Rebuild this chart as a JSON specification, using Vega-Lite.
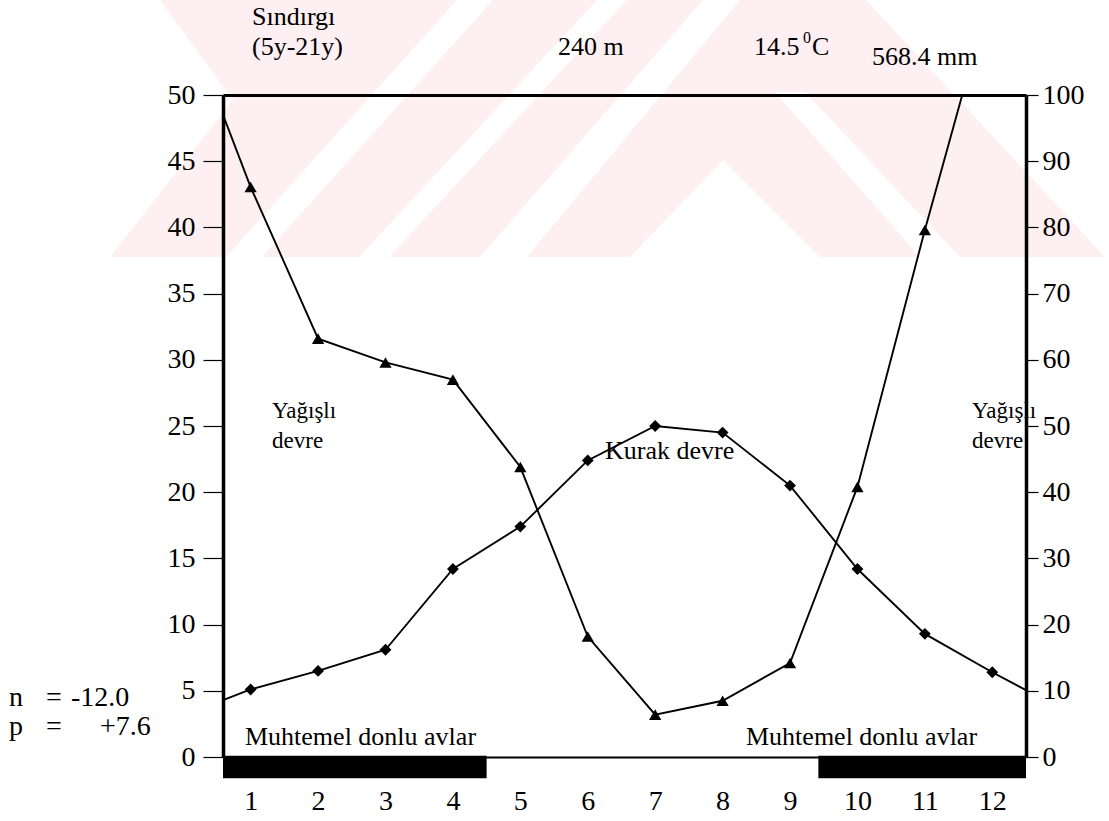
{
  "$schema": "https://vega.github.io/schema/vega-lite/v6.json",
  "width": 803,
  "height": 662,
  "autosize": {"type": "none"},
  "padding": {"left": 223, "top": 95, "right": 83, "bottom": 64},
  "background": "white",
  "config": {
    "view": {"stroke": null},
    "font": "Liberation Serif, Times New Roman, serif",
    "axis": {
      "labelFont": "Liberation Serif, Times New Roman, serif",
      "labelFontSize": 28,
      "labelColor": "black",
      "tickColor": "black",
      "grid": false,
      "title": null
    }
  },
  "datasets": {
    "temp": [
      {"month": 0.59, "temp": 4.3, "edge": true},
      {"month": 1, "temp": 5.1, "edge": false},
      {"month": 2, "temp": 6.5, "edge": false},
      {"month": 3, "temp": 8.1, "edge": false},
      {"month": 4, "temp": 14.2, "edge": false},
      {"month": 5, "temp": 17.4, "edge": false},
      {"month": 6, "temp": 22.4, "edge": false},
      {"month": 7, "temp": 25.0, "edge": false},
      {"month": 8, "temp": 24.5, "edge": false},
      {"month": 9, "temp": 20.5, "edge": false},
      {"month": 10, "temp": 14.2, "edge": false},
      {"month": 11, "temp": 9.3, "edge": false},
      {"month": 12, "temp": 6.4, "edge": false},
      {"month": 12.5, "temp": 5.05, "edge": true}
    ],
    "precip": [
      {"month": 0.59, "mm": 97, "edge": true},
      {"month": 1, "mm": 86.1, "edge": false},
      {"month": 2, "mm": 63.2, "edge": false},
      {"month": 3, "mm": 59.6, "edge": false},
      {"month": 4, "mm": 57.0, "edge": false},
      {"month": 5, "mm": 43.8, "edge": false},
      {"month": 6, "mm": 18.2, "edge": false},
      {"month": 7, "mm": 6.4, "edge": false},
      {"month": 8, "mm": 8.5, "edge": false},
      {"month": 9, "mm": 14.2, "edge": false},
      {"month": 10, "mm": 40.8, "edge": false},
      {"month": 11, "mm": 79.6, "edge": false},
      {"month": 12, "mm": 116.4, "edge": false}
    ],
    "frost": [
      {"from": 0.59, "to": 4.5, "top": 0.1, "bottom": -1.6},
      {"from": 9.42, "to": 12.5, "top": 0.1, "bottom": -1.6}
    ],
    "watermark": [
      {"piece": "L", "wy": 57.18, "wx": -0.344, "wx2": 4.061},
      {"piece": "L", "wy": 49.62, "wx": 0.738, "wx2": 2.727},
      {"piece": "L", "wy": 37.76, "wx": -1.086, "wx2": 0.634},
      {"piece": "AB", "wy": 57.18, "wx": 4.595, "wx2": 6.137},
      {"piece": "AB", "wy": 37.76, "wx": 1.168, "wx2": 2.607},
      {"piece": "BC", "wy": 57.18, "wx": 6.582, "wx2": 7.709},
      {"piece": "BC", "wy": 37.76, "wx": 3.052, "wx2": 4.402},
      {"piece": "R1", "wy": 57.18, "wx": 8.258, "wx2": 10.127},
      {"piece": "R1", "wy": 50.23, "wx": 7.128, "wx2": 11.397},
      {"piece": "R2", "wy": 50.23, "wx": 7.128, "wx2": 8.777},
      {"piece": "R2", "wy": 45.09, "wx": 6.292, "wx2": 9.664},
      {"piece": "R3", "wy": 50.23, "wx": 9.222, "wx2": 11.397},
      {"piece": "R3", "wy": 37.76, "wx": 11.521, "wx2": 13.672},
      {"piece": "R4", "wy": 45.09, "wx": 6.292, "wx2": 8.006},
      {"piece": "R4", "wy": 37.76, "wx": 5.099, "wx2": 6.626},
      {"piece": "R5", "wy": 45.09, "wx": 8.006, "wx2": 9.664},
      {"piece": "R5", "wy": 37.76, "wx": 9.445, "wx2": 10.928}
    ],
    "notes": [
      {"label": "Sındırgı", "tx": 1.02, "ty": 55.29, "kind": "text"},
      {"label": "(5y-21y)", "tx": 1.02, "ty": 53.02, "kind": "text"},
      {"label": "240 m", "tx": 5.559, "ty": 53.02, "kind": "text"},
      {"label": "14.5", "tx": 8.466, "ty": 53.02, "kind": "text"},
      {"label": "0", "tx": 9.193, "ty": 53.95, "kind": "sup"},
      {"label": "C", "tx": 9.326, "ty": 53.02, "kind": "text"},
      {"label": "568.4 mm", "tx": 10.215, "ty": 52.27, "kind": "text"},
      {"label": "Yağışlı", "tx": 1.317, "ty": 25.6, "kind": "small"},
      {"label": "devre", "tx": 1.317, "ty": 23.34, "kind": "small"},
      {"label": "Kurak devre", "tx": 6.256, "ty": 22.5, "kind": "text"},
      {"label": "Yağışlı", "tx": 11.7, "ty": 25.6, "kind": "small"},
      {"label": "devre", "tx": 11.7, "ty": 23.34, "kind": "small"},
      {"label": "Muhtemel donlu avlar", "tx": 0.916, "ty": 0.9, "kind": "text"},
      {"label": "Muhtemel donlu avlar", "tx": 8.347, "ty": 0.9, "kind": "text"},
      {"label": "n", "tx": -2.584, "ty": 3.85, "kind": "np"},
      {"label": "=", "tx": -2.035, "ty": 3.85, "kind": "np"},
      {"label": "-12.0", "tx": -1.665, "ty": 3.85, "kind": "np"},
      {"label": "p", "tx": -2.584, "ty": 1.66, "kind": "np"},
      {"label": "=", "tx": -2.035, "ty": 1.66, "kind": "np"},
      {"label": "+7.6", "tx": -1.234, "ty": 1.66, "kind": "np"}
    ]
  },
  "layer": [
    {
      "layer": [
        {
          "data": {"name": "watermark"},
          "mark": {"type": "area", "orient": "horizontal", "color": "#fdeff2", "clip": false},
          "encoding": {
            "y": {"field": "wy", "type": "quantitative", "scale": {"domain": [0, 50], "nice": false, "zero": false},
                  "axis": {"orient": "left", "values": [0,5,10,15,20,25,30,35,40,45,50], "tickSize": 20, "tickWidth": 1.2, "labelPadding": 8, "domain": true, "domainColor": "black", "domainWidth": 3.5, "zindex": 1}},
            "x": {"field": "wx", "type": "quantitative", "scale": {"domain": [0.59, 12.5], "nice": false, "zero": false},
                  "axis": {"orient": "bottom", "values": [1,2,3,4,5,6,7,8,9,10,11,12], "ticks": false, "labelPadding": 30, "domain": true, "domainColor": "black", "domainWidth": 2, "zindex": 1}},
            "x2": {"field": "wx2"},
            "detail": {"field": "piece", "type": "nominal"}
          }
        },
        {
          "data": {"name": "frost"},
          "mark": {"type": "rect", "color": "black", "clip": false},
          "encoding": {
            "x": {"field": "from", "type": "quantitative",
                  "axis": {"orient": "bottom", "values": [1,2,3,4,5,6,7,8,9,10,11,12], "ticks": false, "labelPadding": 30, "domain": true, "domainColor": "black", "domainWidth": 2, "zindex": 1}},
            "x2": {"field": "to"},
            "y": {"field": "top", "type": "quantitative",
                  "axis": {"orient": "left", "values": [0,5,10,15,20,25,30,35,40,45,50], "tickSize": 20, "tickWidth": 1.2, "labelPadding": 8, "domain": true, "domainColor": "black", "domainWidth": 3.5, "zindex": 1}},
            "y2": {"field": "bottom"}
          }
        },
        {
          "data": {"name": "temp"},
          "mark": {"type": "line", "color": "black", "strokeWidth": 1.9},
          "encoding": {
            "x": {"field": "month", "type": "quantitative",
                  "axis": {"orient": "bottom", "values": [1,2,3,4,5,6,7,8,9,10,11,12], "ticks": false, "labelPadding": 30, "domain": true, "domainColor": "black", "domainWidth": 2, "zindex": 1}},
            "y": {"field": "temp", "type": "quantitative",
                  "axis": {"orient": "left", "values": [0,5,10,15,20,25,30,35,40,45,50], "tickSize": 20, "tickWidth": 1.2, "labelPadding": 8, "domain": true, "domainColor": "black", "domainWidth": 3.5, "zindex": 1}}
          }
        },
        {
          "data": {"name": "temp"},
          "transform": [{"filter": "!datum.edge"}],
          "mark": {"type": "point", "shape": "diamond", "filled": true, "color": "black", "size": 140, "opacity": 1},
          "encoding": {
            "x": {"field": "month", "type": "quantitative",
                  "axis": {"orient": "bottom", "values": [1,2,3,4,5,6,7,8,9,10,11,12], "ticks": false, "labelPadding": 30, "domain": true, "domainColor": "black", "domainWidth": 2, "zindex": 1}},
            "y": {"field": "temp", "type": "quantitative",
                  "axis": {"orient": "left", "values": [0,5,10,15,20,25,30,35,40,45,50], "tickSize": 20, "tickWidth": 1.2, "labelPadding": 8, "domain": true, "domainColor": "black", "domainWidth": 3.5, "zindex": 1}}
          }
        },
        {
          "data": {"name": "notes"},
          "transform": [{"filter": "datum.kind === 'text'"}],
          "mark": {"type": "text", "align": "left", "baseline": "alphabetic", "fontSize": 26, "color": "black", "font": "Liberation Serif, Times New Roman, serif", "clip": false},
          "encoding": {
            "x": {"field": "tx", "type": "quantitative",
                  "axis": {"orient": "bottom", "values": [1,2,3,4,5,6,7,8,9,10,11,12], "ticks": false, "labelPadding": 30, "domain": true, "domainColor": "black", "domainWidth": 2, "zindex": 1}},
            "y": {"field": "ty", "type": "quantitative",
                  "axis": {"orient": "left", "values": [0,5,10,15,20,25,30,35,40,45,50], "tickSize": 20, "tickWidth": 1.2, "labelPadding": 8, "domain": true, "domainColor": "black", "domainWidth": 3.5, "zindex": 1}},
            "text": {"field": "label"}
          }
        },
        {
          "data": {"name": "notes"},
          "transform": [{"filter": "datum.kind === 'small'"}],
          "mark": {"type": "text", "align": "left", "baseline": "alphabetic", "fontSize": 23, "color": "black", "font": "Liberation Serif, Times New Roman, serif", "clip": false},
          "encoding": {
            "x": {"field": "tx", "type": "quantitative",
                  "axis": {"orient": "bottom", "values": [1,2,3,4,5,6,7,8,9,10,11,12], "ticks": false, "labelPadding": 30, "domain": true, "domainColor": "black", "domainWidth": 2, "zindex": 1}},
            "y": {"field": "ty", "type": "quantitative",
                  "axis": {"orient": "left", "values": [0,5,10,15,20,25,30,35,40,45,50], "tickSize": 20, "tickWidth": 1.2, "labelPadding": 8, "domain": true, "domainColor": "black", "domainWidth": 3.5, "zindex": 1}},
            "text": {"field": "label"}
          }
        },
        {
          "data": {"name": "notes"},
          "transform": [{"filter": "datum.kind === 'sup'"}],
          "mark": {"type": "text", "align": "left", "baseline": "alphabetic", "fontSize": 16, "color": "black", "font": "Liberation Serif, Times New Roman, serif", "clip": false},
          "encoding": {
            "x": {"field": "tx", "type": "quantitative",
                  "axis": {"orient": "bottom", "values": [1,2,3,4,5,6,7,8,9,10,11,12], "ticks": false, "labelPadding": 30, "domain": true, "domainColor": "black", "domainWidth": 2, "zindex": 1}},
            "y": {"field": "ty", "type": "quantitative",
                  "axis": {"orient": "left", "values": [0,5,10,15,20,25,30,35,40,45,50], "tickSize": 20, "tickWidth": 1.2, "labelPadding": 8, "domain": true, "domainColor": "black", "domainWidth": 3.5, "zindex": 1}},
            "text": {"field": "label"}
          }
        },
        {
          "data": {"name": "notes"},
          "transform": [{"filter": "datum.kind === 'np'"}],
          "mark": {"type": "text", "align": "left", "baseline": "alphabetic", "fontSize": 28, "color": "black", "font": "Liberation Serif, Times New Roman, serif", "clip": false},
          "encoding": {
            "x": {"field": "tx", "type": "quantitative",
                  "axis": {"orient": "bottom", "values": [1,2,3,4,5,6,7,8,9,10,11,12], "ticks": false, "labelPadding": 30, "domain": true, "domainColor": "black", "domainWidth": 2, "zindex": 1}},
            "y": {"field": "ty", "type": "quantitative",
                  "axis": {"orient": "left", "values": [0,5,10,15,20,25,30,35,40,45,50], "tickSize": 20, "tickWidth": 1.2, "labelPadding": 8, "domain": true, "domainColor": "black", "domainWidth": 3.5, "zindex": 1}},
            "text": {"field": "label"}
          }
        }
      ]
    },
    {
      "layer": [
        {
          "data": {"name": "precip"},
          "mark": {"type": "line", "color": "black", "strokeWidth": 1.9, "clip": true},
          "encoding": {
            "x": {"field": "month", "type": "quantitative",
                  "axis": {"orient": "top", "labels": false, "ticks": false, "domain": true, "domainColor": "black", "domainWidth": 3, "zindex": 1}},
            "y": {"field": "mm", "type": "quantitative", "scale": {"domain": [0, 100], "nice": false, "zero": false},
                  "axis": {"orient": "right", "values": [0,10,20,30,40,50,60,70,80,90,100], "tickSize": 12, "tickWidth": 1.2, "labelPadding": 4, "domain": true, "domainColor": "black", "domainWidth": 3.5, "zindex": 1}}
          }
        },
        {
          "data": {"name": "precip"},
          "transform": [{"filter": "!datum.edge"}],
          "mark": {"type": "point", "shape": "triangle-up", "filled": true, "color": "black", "size": 150, "opacity": 1, "clip": true},
          "encoding": {
            "x": {"field": "month", "type": "quantitative",
                  "axis": {"orient": "top", "labels": false, "ticks": false, "domain": true, "domainColor": "black", "domainWidth": 3, "zindex": 1}},
            "y": {"field": "mm", "type": "quantitative",
                  "axis": {"orient": "right", "values": [0,10,20,30,40,50,60,70,80,90,100], "tickSize": 12, "tickWidth": 1.2, "labelPadding": 4, "domain": true, "domainColor": "black", "domainWidth": 3.5, "zindex": 1}}
          }
        }
      ]
    }
  ],
  "resolve": {"scale": {"y": "independent"}, "axis": {"x": "independent", "y": "independent"}}
}
